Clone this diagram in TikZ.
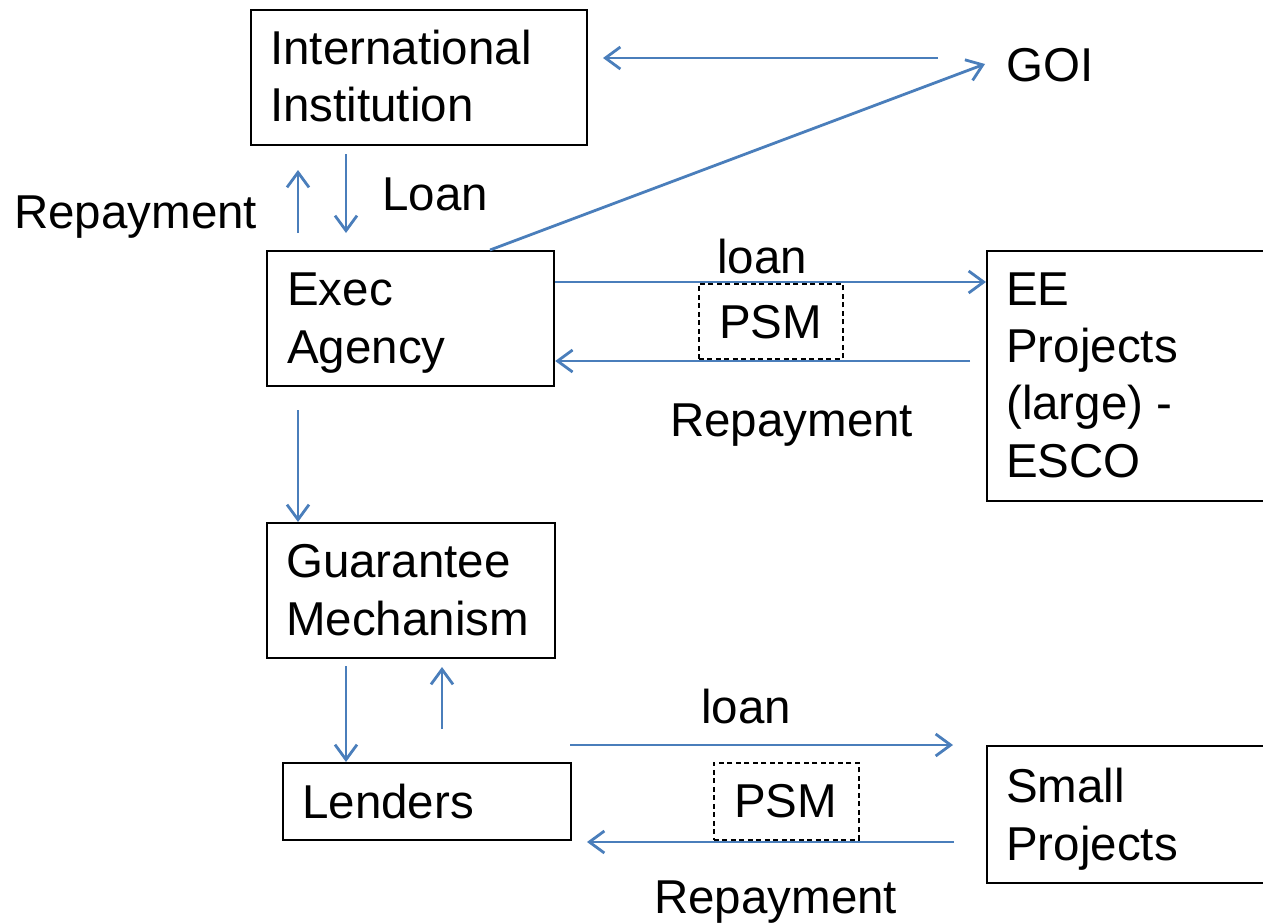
\documentclass[tikz,border=0pt]{standalone}
\usepackage{fontspec}
\setmainfont{Liberation Sans}
\usetikzlibrary{arrows.meta}
\definecolor{arrowblue}{RGB}{74,126,187}
\tikzset{
  boxnode/.style={draw=black, line width=2.2pt, rectangle, inner sep=0pt, anchor=north west},
  psmbox/.style={draw=black, line width=1.6pt, dash pattern=on 5pt off 3.5pt, rectangle, inner sep=0pt, anchor=north west},
  txt/.style={inner sep=0pt, anchor=base west, font=\fontsize{47.5}{57}\selectfont},
  arr/.style={draw=arrowblue, line width=2.8pt, -{Straight Barb[length=15pt,width=22pt,line width=2.8pt]}},
}
\begin{document}
\begin{tikzpicture}[x=1pt,y=-1pt]
\useasboundingbox (0,0) rectangle (1263,923);

% boxes
\node[boxnode, minimum width=336, minimum height=135] (ii) at (250,9) {};
\node[boxnode, minimum width=287, minimum height=135] (exec) at (266,250) {};
\node[boxnode, minimum width=280, minimum height=250] (ee) at (986,250) {};
\node[boxnode, minimum width=288, minimum height=135] (guar) at (266,522) {};
\node[boxnode, minimum width=288, minimum height=77] (lend) at (282,762) {};
\node[boxnode, minimum width=280, minimum height=137] (small) at (986,745) {};
\node[psmbox, minimum width=144, minimum height=75] (psm1) at (698,283) {};
\node[psmbox, minimum width=145, minimum height=77] (psm2) at (713,762) {};

% texts
\node[txt] (iit1) at (270,65) {International};
\node[txt] (iit2) at (270,122) {Institution};
\node[txt] (goi) at (1006,82) {GOI};
\node[txt] (rep1) at (14,228) {Repayment};
\node[txt] (loan1) at (382,210) {Loan};
\node[txt] (ext1) at (287,305) {Exec};
\node[txt] (ext2) at (287,363) {Agency};
\node[txt] (loan2) at (717,273) {loan};
\node[txt] (psmt1) at (719,338) {PSM};
\node[txt] (rep2) at (670,436) {Repayment};
\node[txt] (eet1) at (1006,305) {EE};
\node[txt] (eet2) at (1006,362) {Projects};
\node[txt] (eet3) at (1006,419) {(large) -};
\node[txt] (eet4) at (1006,477) {ESCO};
\node[txt] (gt1) at (286,577) {Guarantee};
\node[txt] (gt2) at (286,635) {Mechanism};
\node[txt] (lt1) at (302,818) {Lenders};
\node[txt] (loan3) at (701,723) {loan};
\node[txt] (psmt2) at (734,817) {PSM};
\node[txt] (rep3) at (654,913) {Repayment};
\node[txt] (st1) at (1006,802) {Small};
\node[txt] (st2) at (1006,860) {Projects};

% free-end coordinates
\coordinate (goiS) at (938,58);
\coordinate (iiE) at (603,58);
\coordinate (execTop) at (490,250);
\coordinate (goiW) at (985,64);
\coordinate (repA) at (298,233);
\coordinate (repB) at (298,170);
\coordinate (loanA) at (346,154);
\coordinate (loanB) at (346,233);
\coordinate (eeRepS) at (970,361);
\coordinate (execDown) at (298,410);
\coordinate (gdA) at (346,666);
\coordinate (guA) at (442,729);
\coordinate (guB) at (442,667);
\coordinate (lnA) at (570,745);
\coordinate (lnB) at (953,745);
\coordinate (srA) at (954,842);
\coordinate (srB) at (587,842);

% connectors
\draw[arr] (goiS) -- (iiE);
\draw[arr] (execTop) -- (goiW);
\draw[arr] (repA) -- (repB);
\draw[arr] (loanA) -- (loanB);
\draw[arr] (exec.east |- 0,282) -- (ee.west |- 0,282);
\draw[arr] (eeRepS) -- (exec.east |- 0,361);
\draw[arr] (execDown) -- (guar.north -| execDown);
\draw[arr] (gdA) -- (lend.north -| gdA);
\draw[arr] (guA) -- (guB);
\draw[arr] (lnA) -- (lnB);
\draw[arr] (srA) -- (srB);
\end{tikzpicture}
\end{document}
